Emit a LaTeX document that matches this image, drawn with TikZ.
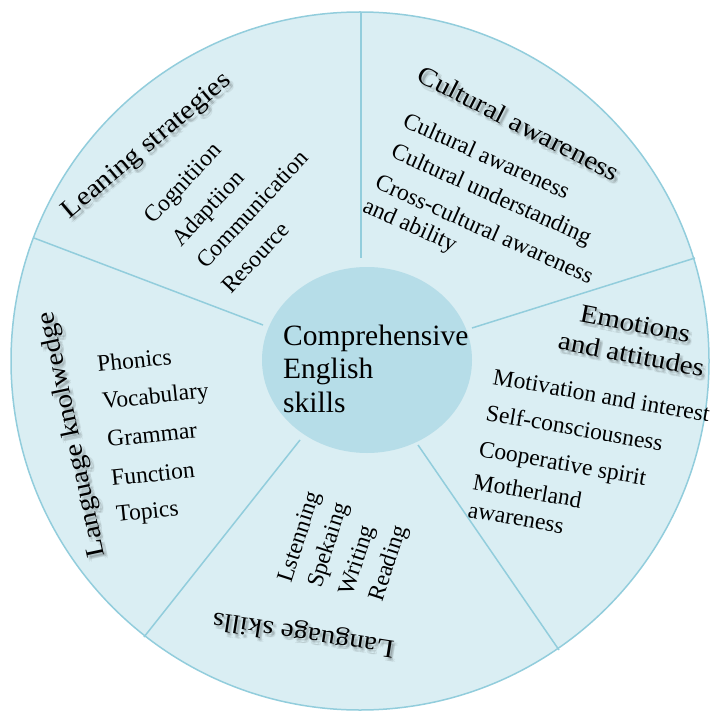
\documentclass[tikz,border=0pt]{standalone}
\usepackage{fontspec}
\setmainfont{Liberation Serif}
\newfontfamily\hdrfamily{Liberation Serif}[FakeStretch=1.12]
\usetikzlibrary{calc}

\definecolor{ringfill}{HTML}{DAEEF3}
\definecolor{corefill}{HTML}{B6DDE8}
\definecolor{rulecol}{HTML}{92CDDC}

\tikzset{
  hdr/.style={inner sep=0pt, anchor=base, font=\hdrfamily\fontsize{26}{30}\selectfont},
  hdrshade/.style={hdr, text=black, text opacity=0.07},
  entry/.style={inner sep=0pt, anchor=base west, font=\fontsize{23.5}{28}\selectfont},
  core/.style={inner sep=0pt, anchor=base west, font=\fontsize{29.5}{34}\selectfont},
  divider/.style={draw=rulecol, line width=1.5pt},
}

% heading with a soft drop shadow: name, position, angle, text
\newcommand\heading[4]{%
  \foreach \sx/\sy [count=\k] in {1.5/2,3.5/2,1.5/4.5,3.5/4.5,2.5/3.2}
    \node[hdrshade, rotate=#3] (#1-s\k) at ($(#2)+(\sx,\sy)$) {#4};
  \node[hdr, rotate=#3] (#1) at (#2) {#4};
}

\begin{document}
\begin{tikzpicture}[x=1pt, y=-1pt]
  \useasboundingbox (0,0) rectangle (711,711);

  % outer ring
  \draw[fill=ringfill, draw=rulecol, line width=1.5pt] (360,361) circle[radius=349pt];

  % sector dividers
  \coordinate (d1o) at (361,12.5);  \coordinate (d1i) at (361,258);
  \coordinate (d2o) at (34,238);    \coordinate (d2i) at (263,325);
  \coordinate (d3o) at (695,258);   \coordinate (d3i) at (472,328);
  \coordinate (d4o) at (144,637);   \coordinate (d4i) at (300,440);
  \coordinate (d5o) at (559,650);   \coordinate (d5i) at (418,445);
  \draw[divider] (d1o) -- (d1i);
  \draw[divider] (d2o) -- (d2i);
  \draw[divider] (d3o) -- (d3i);
  \draw[divider] (d4o) -- (d4i);
  \draw[divider] (d5o) -- (d5i);

  % core
  \fill[corefill] (367,360) ellipse[x radius=105pt, y radius=93pt];
  \node[core] (c1) at (283,345) {Comprehensive};
  \node[core] (c2) at (283,378) {English};
  \node[core] (c3) at (283,412) {skills};

  % headings
  \heading{hLS}{151,151}{40}{Leaning strategies}
  \heading{hCA}{515,131}{-27}{Cultural awareness}
  \heading{hEA}{633.6,332}{-11}{Emotions}
  \heading{hEB}{629.7,363}{-11}{and attitudes}
  \heading{hSK}{304.5,627}{171}{Language skills}
  \heading{hLK}{79,433}{102}{Language knolwedge}

  % learning strategies
  \node[entry, rotate=47] (ls1) at (153.4,225) {Cognitiion};
  \node[entry, rotate=47] (ls2) at (181,248) {Adaptiion};
  \node[entry, rotate=47] (ls3) at (206,270) {Communication};
  \node[entry, rotate=47] (ls4) at (231,295) {Resource};

  % cultural awareness
  \node[entry, rotate=-24] (ca1) at (401.4,126.4) {Cultural awareness};
  \node[entry, rotate=-24] (ca2) at (389.7,156.9) {Cultural understanding};
  \node[entry, rotate=-24] (ca3) at (373.7,187.9) {Cross-cultural awareness};
  \node[entry, rotate=-24] (ca4) at (361.5,211.2) {and ability};

  % emotions and attitudes
  \node[entry, rotate=-10] (ea1) at (492,384) {Motivation and interest};
  \node[entry, rotate=-10] (ea2) at (485,420) {Self-consciousness};
  \node[entry, rotate=-10] (ea3) at (478,456) {Cooperative spirit};
  \node[entry, rotate=-10] (ea4) at (472,489) {Motherland};
  \node[entry, rotate=-10] (ea5) at (467,517) {awareness};

  % language skills
  \node[entry, rotate=72] (sk1) at (291,584) {Lstenning};
  \node[entry, rotate=72] (sk2) at (321,589) {Spekaing};
  \node[entry, rotate=72] (sk3) at (352,597) {Writing};
  \node[entry, rotate=72] (sk4) at (382.5,603) {Reading};

  % language knowledge
  \node[entry, rotate=6] (lk1) at (98,372) {Phonics};
  \node[entry, rotate=6] (lk2) at (103,409) {Vocabulary};
  \node[entry, rotate=6] (lk3) at (108,447) {Grammar};
  \node[entry, rotate=6] (lk4) at (112,486) {Function};
  \node[entry, rotate=6] (lk5) at (117,522) {Topics};
\end{tikzpicture}
\end{document}
